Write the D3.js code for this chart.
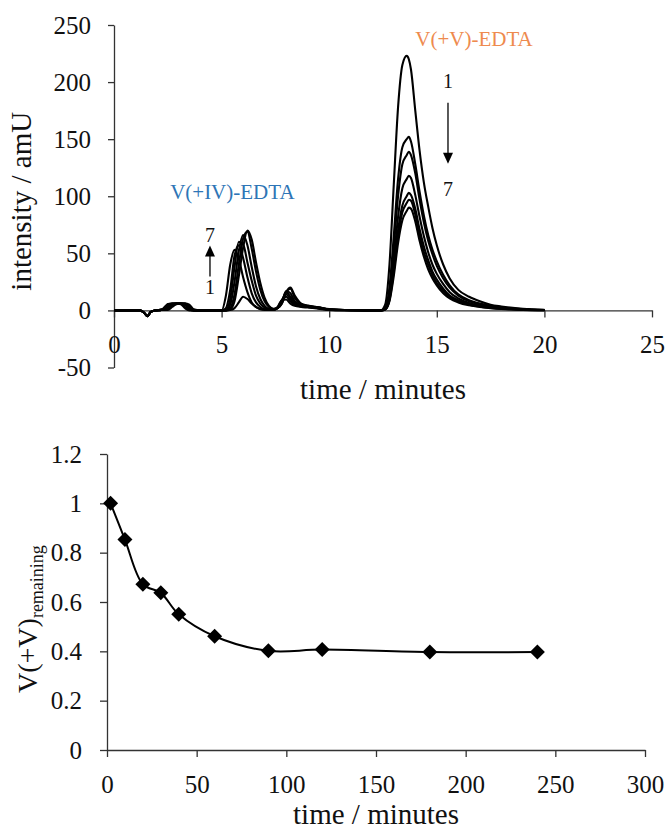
<!DOCTYPE html>
<html>
<head>
<meta charset="utf-8">
<script src="https://cdn.jsdelivr.net/npm/d3@7/dist/d3.min.js"></script>
<style>
  html, body { margin: 0; padding: 0; background: #fff; }
  svg { display: block; }
  svg text { font-family: "Liberation Serif", "Times New Roman", Times, serif !important; }
</style>
</head>
<body>
<svg id="chart" width="667" height="833"></svg>
<script>
// ---------- Top chart: chromatograms (time in minutes, intensity in amU) ----------
const TIMES = [0, 1.2, 1.4, 1.55, 1.7, 1.9,
  2.2, 2.35, 2.5, 2.7, 2.9, 3.1, 3.3, 3.5, 3.7,
  4.0, 5.0,
  5.2, 5.4, 5.6, 5.8, 6.0, 6.2, 6.4, 6.6, 6.8, 7.0, 7.2, 7.4,
  7.6, 7.8, 8.0, 8.2, 8.4, 8.7, 9.0, 9.5, 10.0,
  11.0, 12.4,
  12.6, 12.8, 13.0, 13.2, 13.4, 13.6, 13.7, 13.8,
  14.0, 14.2, 14.4, 14.6, 14.8, 15.0, 15.3, 15.6,
  16.0, 16.5, 17.0, 17.5, 18.0, 19.0, 20.0];

const TRACE_1 = [0, 0, -2, -5, -1.5, 0,
  0.5, 3, 5.5, 6, 6, 5.5, 2, 0, 0,
  0, 0,
  0, 0.3, 2, 7, 12, 10, 6, 3, 1.5, 1, 0.5, 0.5,
  3, 9, 9.5, 6, 4, 3, 2.5, 1.5, 0.5,
  0.2, 0,
  5, 40, 110, 178, 215, 223, 220, 211,
  175, 140, 112, 91, 72, 57, 40, 28,
  18, 12, 8, 5, 3.5, 1.5, 0.5];

const TRACE_2 = [0, 0, -2, -5, -1.5, 0,
  0.5, 2, 5, 6, 6, 6, 3, 0.5, 0,
  0, 0,
  13, 40, 53, 45, 29, 16, 7, 3, 1, 0.5, 0.4, 0.5,
  2.5, 9, 12, 8, 5, 3.5, 3, 2, 0.5,
  0.2, 0,
  2, 20, 65, 115, 143, 150, 152, 148,
  128, 104, 83, 66, 53, 43, 31, 22,
  14, 9, 6, 4, 2.5, 1, 0.3];

const TRACE_3 = [0, 0, -2, -5, -1.5, 0,
  0.5, 1, 4, 6, 6, 6, 5, 1, 0,
  0, 0,
  2, 18, 48, 57, 46, 29, 15, 7, 3, 1, 0.5, 0.5,
  2, 9, 14, 10, 6, 4, 3, 2, 0.7,
  0.2, 0,
  1.5, 16, 55, 100, 128, 136, 139, 136,
  120, 97, 77, 61, 49, 39, 28, 20,
  13, 8, 5.5, 3.5, 2.3, 1, 0.3];

const TRACE_4 = [0, 0, -2, -5, -1.5, 0,
  0.5, 0.5, 3, 5.5, 6, 6, 5.5, 2, 0,
  0, 0,
  0.5, 10, 38, 60, 58, 42, 26, 13, 6, 2.5, 1, 0.8,
  2, 8, 16, 12, 7, 4.5, 3.5, 2.2, 0.8,
  0.2, 0,
  1, 12, 44, 82, 107, 115, 118, 116,
  101, 82, 65, 51, 40, 32, 23, 16,
  10.5, 6.5, 4.5, 3, 2, 0.8, 0.3];

const TRACE_5 = [0, 0, -2, -5, -1.5, 0,
  0.5, 0.5, 2, 5, 6, 6, 6, 3, 0,
  0, 0,
  0, 5, 25, 52, 66, 57, 38, 21, 10, 4, 1.5, 1,
  2, 7, 17, 15, 8, 5, 3.8, 2.5, 1,
  0.2, 0,
  1, 10, 37, 70, 92, 100, 103, 101,
  89, 71, 56, 44, 34, 27, 19, 13,
  9, 5.5, 3.8, 2.5, 1.7, 0.7, 0.2];

const TRACE_6 = [0, 0, -2, -5, -1.5, 0,
  0.5, 0.5, 1, 4, 6, 6, 6, 4, 0.5,
  0, 0,
  0, 2, 14, 40, 63, 69, 54, 34, 18, 8, 3, 1.2,
  2, 6, 16, 19, 11, 5.5, 4, 2.7, 1,
  0.2, 0,
  1, 9, 34, 65, 86, 94, 97, 96,
  84, 66, 51, 40, 31, 24, 17, 12,
  8, 5, 3.3, 2.2, 1.5, 0.6, 0.2];

const TRACE_7 = [0, 0, -2, -5, -1.5, 0,
  0.5, 0.5, 0.5, 3, 5.5, 6, 6, 5, 1,
  0, 0,
  0, 1, 8, 30, 55, 70, 62, 42, 24, 11, 4, 1.5,
  2.2, 6, 16, 20, 13, 6, 4.2, 2.8, 1.2,
  0.2, 0,
  0.8, 8, 30, 59, 79, 87, 90, 89,
  78, 61, 47, 36, 28, 22, 15, 10.5,
  7, 4.5, 3, 2, 1.3, 0.5, 0.2];

const TRACES = [TRACE_1, TRACE_2, TRACE_3, TRACE_4, TRACE_5, TRACE_6, TRACE_7];

const TOP_X_TICKS = [0, 5, 10, 15, 20, 25];
const TOP_Y_TICKS = [-50, 0, 50, 100, 150, 200, 250];

// ---------- Bottom chart: V(+V) remaining vs time ----------
const KIN_TIME = [2, 10, 20, 30, 40, 60, 90, 120, 180, 240];
const KIN_REMAIN = [1.0, 0.853, 0.672, 0.637, 0.55, 0.461, 0.402, 0.407, 0.397, 0.397];
const BOT_X_TICKS = [0, 50, 100, 150, 200, 250, 300];
const BOT_Y_TICKS = [0, 0.2, 0.4, 0.6, 0.8, 1, 1.2];

const FONT = "'Liberation Serif', 'Times New Roman', Times, serif";
const svg = d3.select("#chart").style("font-family", FONT);
svg.append("rect").attr("width", 667).attr("height", 833).attr("fill", "#fff");

const AXIS_COLOR = "#333";
const TICK_FONT = 25;
const TITLE_FONT = 29;

function styleAxis(g) {
  g.attr("font-family", null).style("font-family", FONT);
  g.select(".domain").attr("stroke", AXIS_COLOR).attr("stroke-width", 1.3);
  g.selectAll(".tick line").attr("stroke", AXIS_COLOR).attr("stroke-width", 1.3);
  g.selectAll(".tick text")
    .style("font-family", FONT)
    .attr("font-size", TICK_FONT)
    .attr("fill", "#111");
}

function label(x, y, str, size, color) {
  return svg.append("text")
    .attr("x", x).attr("y", y)
    .attr("text-anchor", "middle")
    .attr("font-size", size)
    .style("font-family", FONT)
    .style("fill", color || "#111")
    .text(str);
}

// ===== Top chart =====
const xT = d3.scaleLinear().domain([0, 25]).range([114, 652]);
const yT = d3.scaleLinear().domain([-50, 250]).range([367.5, 25]);

const gTopY = svg.append("g").attr("transform", `translate(${xT(0)},0)`)
  .call(d3.axisLeft(yT).tickValues(TOP_Y_TICKS).tickFormat(d => String(d))
    .tickSize(6).tickSizeOuter(0).tickPadding(17));
styleAxis(gTopY);

const gTopX = svg.append("g").attr("transform", `translate(0,${yT(0)})`)
  .call(d3.axisBottom(xT).tickValues(TOP_X_TICKS).tickFormat(d => String(d))
    .tickSize(7).tickSizeOuter(0).tickPadding(18));
styleAxis(gTopX);

const lineT = d3.line()
  .x((d, i) => xT(TIMES[i]))
  .y(d => yT(d))
  .curve(d3.curveMonotoneX);

svg.append("g").selectAll("path").data(TRACES).join("path")
  .attr("d", d => lineT(d))
  .attr("fill", "none")
  .attr("stroke", "#000")
  .attr("stroke-width", 2.1)
  .attr("stroke-linejoin", "round");

// Axis titles (top)
label((xT(0) + xT(25)) / 2, 399, "time / minutes", TITLE_FONT);

svg.append("text")
  .attr("transform", `translate(31,${(yT(-50) + yT(250)) / 2 + 5}) rotate(-90)`)
  .attr("text-anchor", "middle").attr("font-size", TITLE_FONT)
  .style("font-family", FONT).style("fill", "#111")
  .text("intensity / amU");

// Peak labels
label(xT(5.5), yT(98), "V(+IV)-EDTA", 21, "#2E75B6");
label(xT(16.73), yT(231.6), "V(+V)-EDTA", 21, "#EE8A4E");

// Arrow annotations
function arrow(xc, yFrom, yTip) {
  const dir = yTip < yFrom ? -1 : 1;
  const headLen = 11, headHalf = 5;
  svg.append("line")
    .attr("x1", xc).attr("x2", xc)
    .attr("y1", yFrom).attr("y2", yTip - dir * headLen + dir)
    .attr("stroke", "#000").attr("stroke-width", 1.3);
  svg.append("path")
    .attr("d", `M${xc},${yTip} L${xc - headHalf},${yTip - dir * headLen} L${xc + headHalf},${yTip - dir * headLen} Z`)
    .attr("fill", "#000");
}

// left (V(+IV)) arrow: 1 -> 7 upward
label(xT(4.46), yT(60.3), "7", 20);
arrow(xT(4.46), yT(29.7), yT(56.8));
label(xT(4.46), yT(14), "1", 20);

// right (V(+V)) arrow: 1 -> 7 downward
label(xT(15.52), yT(195), "1", 20);
arrow(xT(15.52), yT(181.8), yT(128.5));
label(xT(15.52), yT(100.5), "7", 20);

// ===== Bottom chart =====
const xB = d3.scaleLinear().domain([0, 300]).range([107, 645]);
const yB = d3.scaleLinear().domain([0, 1.2]).range([750, 454]);

const gBotY = svg.append("g").attr("transform", `translate(${xB(0)},0)`)
  .call(d3.axisLeft(yB).tickValues(BOT_Y_TICKS).tickFormat(d3.format("~g"))
    .tickSize(7).tickSizeOuter(0).tickPadding(18));
styleAxis(gBotY);

const gBotX = svg.append("g").attr("transform", `translate(0,${yB(0)})`)
  .call(d3.axisBottom(xB).tickValues(BOT_X_TICKS).tickFormat(d => String(d))
    .tickSize(7).tickSizeOuter(0).tickPadding(18));
styleAxis(gBotX);

const kin = KIN_TIME.map((t, i) => [t, KIN_REMAIN[i]]);

svg.append("path")
  .datum(kin)
  .attr("d", d3.line().x(d => xB(d[0])).y(d => yB(d[1])).curve(d3.curveCatmullRom.alpha(0.5)))
  .attr("fill", "none").attr("stroke", "#000").attr("stroke-width", 2);

svg.append("g").selectAll("path").data(kin).join("path")
  .attr("transform", d => `translate(${xB(d[0])},${yB(d[1])})`)
  .attr("d", "M0,-7.5 L7.5,0 L0,7.5 L-7.5,0 Z")
  .attr("fill", "#000");

label((xB(0) + xB(300)) / 2, 824, "time / minutes", TITLE_FONT);

const yl = svg.append("text")
  .attr("transform", `translate(37,693) rotate(-90)`)
  .attr("text-anchor", "start").attr("font-size", 28)
  .style("font-family", FONT).style("fill", "#111");
yl.append("tspan").text("V(+V)");
yl.append("tspan").attr("font-size", 18).attr("dy", 6).text("remaining");
</script>
</body>
</html>
